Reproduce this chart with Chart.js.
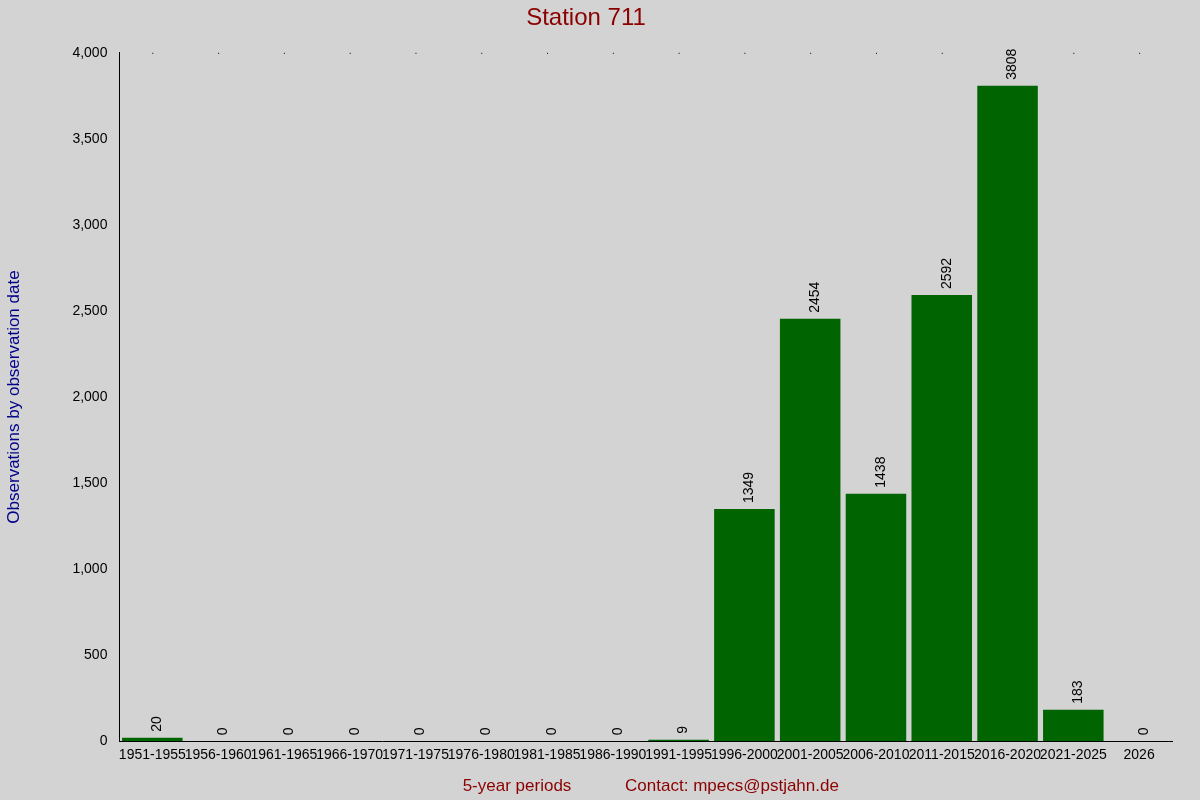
<!DOCTYPE html>
<html><head><meta charset="utf-8">
<script src="https://cdn.jsdelivr.net/npm/chart.js@4/dist/chart.umd.min.js"></script>
<style>html,body{margin:0;padding:0;background:#d3d3d3;}#w{width:1200px;height:800px;position:relative;}</style>
</head><body><div id="w"><canvas id="c" width="1200" height="800"></canvas></div>
<script>
const categories = ["1951-1955","1956-1960","1961-1965","1966-1970","1971-1975","1976-1980","1981-1985","1986-1990","1991-1995","1996-2000","2001-2005","2006-2010","2011-2015","2016-2020","2021-2025","2026"];
const values = [20,0,0,0,0,0,0,0,9,1349,2454,1438,2592,3808,183,0];
const yTicks = [0,500,1000,1500,2000,2500,3000,3500,4000];

const bg = {id:'bg',beforeDraw(ch){const c=ch.ctx;c.save();c.fillStyle='#d3d3d3';c.fillRect(0,0,ch.width,ch.height);c.restore();}};
const extras = {id:'extras',afterDraw(ch){
  const c=ch.ctx, x=ch.scales.x, y=ch.scales.y;
  c.save();
  c.font='14px "Liberation Sans", Arial, sans-serif';c.fillStyle='#000';
  values.forEach((v,i)=>{
    const px=x.getPixelForValue(i), py=y.getPixelForValue(v);
    c.save();c.translate(px+5,py-6);c.rotate(-Math.PI/2);c.textAlign='left';c.textBaseline='middle';c.fillText(String(v),0,0);c.restore();
    c.fillRect(px,y.getPixelForValue(4000),1,1);
  });
  c.font='17px "Liberation Sans", Arial, sans-serif';c.fillStyle='#8b0000';c.textAlign='center';c.textBaseline='middle';
  c.fillText('5-year periods',517,786);c.fillText('Contact: mpecs@pstjahn.de',732,786);
  c.restore();
}};
new Chart(document.getElementById('c'),{
  type:'bar',
  data:{labels:categories,datasets:[{data:values,backgroundColor:'#006400',categoryPercentage:1,barPercentage:0.92}]},
  options:{responsive:false,animation:false,
    layout:{padding:{left:0,right:28,top:0,bottom:30}},
    plugins:{legend:{display:false},tooltip:{enabled:false},
      title:{display:true,text:'Station 711',color:'#8b0000',font:{size:24,family:'"Liberation Sans", Arial, sans-serif',weight:'normal'},padding:{top:4,bottom:20}}},
    scales:{
      x:{grid:{display:false,drawTicks:false},border:{color:'#000'},
        ticks:{color:'#000',maxRotation:0,minRotation:0,autoSkip:false,padding:6,font:{size:14,family:'"Liberation Sans", Arial, sans-serif'}}},
      y:{min:0,max:4000,afterBuildTicks(s){s.ticks=yTicks.map(v=>({value:v}));},
        grid:{display:false,drawTicks:true,tickLength:6,color:'#000'},border:{color:'#000'},
        ticks:{color:'#000',padding:6,font:{size:14,family:'"Liberation Sans", Arial, sans-serif'}},
        title:{display:true,text:'Observations by observation date',color:'#00008b',font:{size:17,family:'"Liberation Sans", Arial, sans-serif'},padding:{bottom:42}}}
    }},
  plugins:[bg,extras]
});
</script></body></html>
